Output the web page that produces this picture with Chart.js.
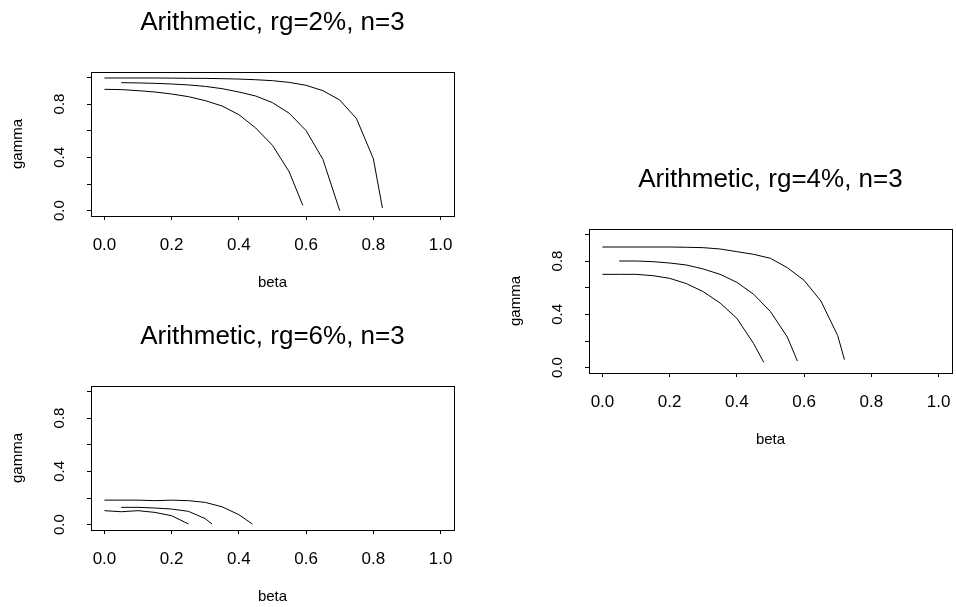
<!DOCTYPE html>
<html lang="en">
<head>
<meta charset="UTF-8">
<title>Arithmetic, gamma vs beta</title>
<script src="https://cdn.jsdelivr.net/npm/chart.js"></script>
<style>
  body { margin: 0; background: #fff; width: 956px; height: 607px; position: relative; overflow: hidden; }
  .panel { position: absolute; }
</style>
</head>
<body>
<div class="panel" style="left:0;top:0;width:478px;height:301px"><canvas id="rg2"></canvas></div>
<div class="panel" style="left:498px;top:157px;width:458px;height:301px"><canvas id="rg4"></canvas></div>
<div class="panel" style="left:0;top:314px;width:478px;height:301px"><canvas id="rg6"></canvas></div>
<script>
const tickValues = [0, 0.2, 0.4, 0.6, 0.8, 1.0];
const xTickLabels = ['0.0', '0.2', '0.4', '0.6', '0.8', '1.0'];
const yTickLabels = ['0.0', '', '0.4', '', '0.8', ''];

// rg = 2%
const rg2Beta1 = [0, 0.05, 0.1, 0.15, 0.2, 0.25, 0.3, 0.35, 0.4, 0.45, 0.5, 0.55, 0.6, 0.65, 0.7, 0.75, 0.8, 0.827];
const rg2Gamma1 = [0.995, 0.995, 0.995, 0.995, 0.994, 0.993, 0.992, 0.99, 0.987, 0.982, 0.975, 0.962, 0.94, 0.90, 0.83, 0.69, 0.39, 0.02];
const rg2Beta2 = [0.05, 0.1, 0.15, 0.2, 0.25, 0.3, 0.35, 0.4, 0.45, 0.5, 0.55, 0.6, 0.65, 0.7];
const rg2Gamma2 = [0.96, 0.958, 0.955, 0.95, 0.943, 0.932, 0.915, 0.89, 0.86, 0.81, 0.73, 0.60, 0.385, 0.0];
const rg2Beta3 = [0, 0.05, 0.1, 0.15, 0.2, 0.25, 0.3, 0.35, 0.4, 0.45, 0.5, 0.55, 0.59];
const rg2Gamma3 = [0.91, 0.908, 0.90, 0.89, 0.875, 0.855, 0.825, 0.785, 0.72, 0.62, 0.49, 0.29, 0.04];

// rg = 4%
const rg4Beta1 = [0, 0.05, 0.1, 0.15, 0.2, 0.25, 0.3, 0.35, 0.4, 0.45, 0.5, 0.55, 0.6, 0.65, 0.7, 0.72];
const rg4Gamma1 = [0.905, 0.905, 0.905, 0.905, 0.905, 0.903, 0.90, 0.89, 0.87, 0.85, 0.82, 0.75, 0.655, 0.50, 0.24, 0.06];
const rg4Beta2 = [0.05, 0.1, 0.15, 0.2, 0.25, 0.3, 0.35, 0.4, 0.45, 0.5, 0.55, 0.58];
const rg4Gamma2 = [0.80, 0.80, 0.795, 0.785, 0.77, 0.74, 0.70, 0.64, 0.55, 0.42, 0.23, 0.05];
const rg4Beta3 = [0, 0.05, 0.1, 0.15, 0.2, 0.25, 0.3, 0.35, 0.4, 0.45, 0.48];
const rg4Gamma3 = [0.70, 0.70, 0.70, 0.69, 0.67, 0.63, 0.57, 0.485, 0.37, 0.18, 0.04];

// rg = 6%
const rg6Beta1 = [0, 0.05, 0.1, 0.15, 0.2, 0.25, 0.3, 0.35, 0.4, 0.44];
const rg6Gamma1 = [0.184, 0.184, 0.184, 0.18, 0.184, 0.18, 0.167, 0.134, 0.075, 0.005];
const rg6Beta2 = [0.05, 0.1, 0.15, 0.2, 0.25, 0.3, 0.32];
const rg6Gamma2 = [0.13, 0.13, 0.125, 0.117, 0.10, 0.045, 0.005];
const rg6Beta3 = [0, 0.05, 0.1, 0.15, 0.2, 0.25];
const rg6Gamma3 = [0.105, 0.097, 0.105, 0.092, 0.067, 0.005];

const FONT = '"Liberation Sans", Arial, Helvetica, sans-serif';

function pts(b, g) {
    return b.map((x, i) => ({ x: x, y: g[i] }));
}

// box round the plot region and the rotated y tick labels, R style
const frame = {
    id: 'frame',
    afterDraw(chart) {
        const { ctx, chartArea } = chart;
        const ys = chart.scales.y;
        ctx.save();
        ctx.strokeStyle = '#000';
        ctx.lineWidth = 1;
        ctx.strokeRect(Math.round(chartArea.left) + 0.5, Math.round(chartArea.top) + 0.5,
            Math.round(chartArea.right - chartArea.left), Math.round(chartArea.bottom - chartArea.top));
        ctx.fillStyle = '#000';
        ctx.font = '15px ' + FONT;
        ctx.textAlign = 'center';
        ctx.textBaseline = 'middle';
        tickValues.forEach((v, i) => {
            if (!yTickLabels[i]) return;
            ctx.save();
            ctx.translate(chartArea.left - 31, ys.getPixelForValue(v));
            ctx.rotate(-Math.PI / 2);
            ctx.fillText(yTickLabels[i], 0, 0);
            ctx.restore();
        });
        ctx.restore();
    }
};

function makePanel(id, title, curves, padRight) {
    new Chart(document.getElementById(id), {
        type: 'scatter',
        data: {
            datasets: curves.map(c => ({
                data: pts(c[0], c[1]),
                showLine: true,
                borderColor: '#000',
                borderWidth: 1,
                pointRadius: 0,
                fill: false,
                tension: 0
            }))
        },
        options: {
            responsive: true,
            maintainAspectRatio: false,
            animation: false,
            layout: { padding: { left: 0, right: padRight, top: 0, bottom: 0 } },
            plugins: {
                legend: { display: false },
                tooltip: { enabled: false },
                title: {
                    display: true, text: title, fullSize: false, color: '#000',
                    font: { family: FONT, size: 26, weight: 'normal' },
                    padding: { top: 7, bottom: 33.8 }
                }
            },
            scales: {
                x: {
                    type: 'linear', min: -0.04, max: 1.04,
                    afterBuildTicks: s => { s.ticks = tickValues.map(v => ({ value: v })); },
                    afterFit: s => { s.height = 85; s.paddingLeft = 0; s.paddingRight = 0; },
                    grid: { drawOnChartArea: false, drawTicks: true, tickLength: 4, color: '#000' },
                    border: { display: false },
                    ticks: {
                        color: '#000', padding: 15, maxRotation: 0, autoSkip: false,
                        font: { family: FONT, size: 17 },
                        callback: (v, i) => xTickLabels[i]
                    },
                    title: {
                        display: true, text: 'beta', color: '#000',
                        font: { family: FONT, size: 15 },
                        padding: { top: 0, bottom: 9 }
                    }
                },
                y: {
                    type: 'linear', min: -0.04, max: 1.04,
                    afterBuildTicks: s => { s.ticks = tickValues.map(v => ({ value: v })); },
                    afterFit: s => { s.width = 91; s.paddingTop = 0; s.paddingBottom = 0; },
                    grid: { drawOnChartArea: false, drawTicks: true, tickLength: 4, color: '#000' },
                    border: { display: false },
                    ticks: { display: false },
                    title: {
                        display: true, text: 'gamma', color: '#000',
                        font: { family: FONT, size: 15 },
                        padding: { top: 8.5, bottom: 0 }
                    }
                }
            }
        },
        plugins: [frame]
    });
}

makePanel('rg2', 'Arithmetic, rg=2%, n=3',
    [[rg2Beta1, rg2Gamma1], [rg2Beta2, rg2Gamma2], [rg2Beta3, rg2Gamma3]], 24);
makePanel('rg4', 'Arithmetic, rg=4%, n=3',
    [[rg4Beta1, rg4Gamma1], [rg4Beta2, rg4Gamma2], [rg4Beta3, rg4Gamma3]], 4);
makePanel('rg6', 'Arithmetic, rg=6%, n=3',
    [[rg6Beta1, rg6Gamma1], [rg6Beta2, rg6Gamma2], [rg6Beta3, rg6Gamma3]], 24);
</script>
</body>
</html>
